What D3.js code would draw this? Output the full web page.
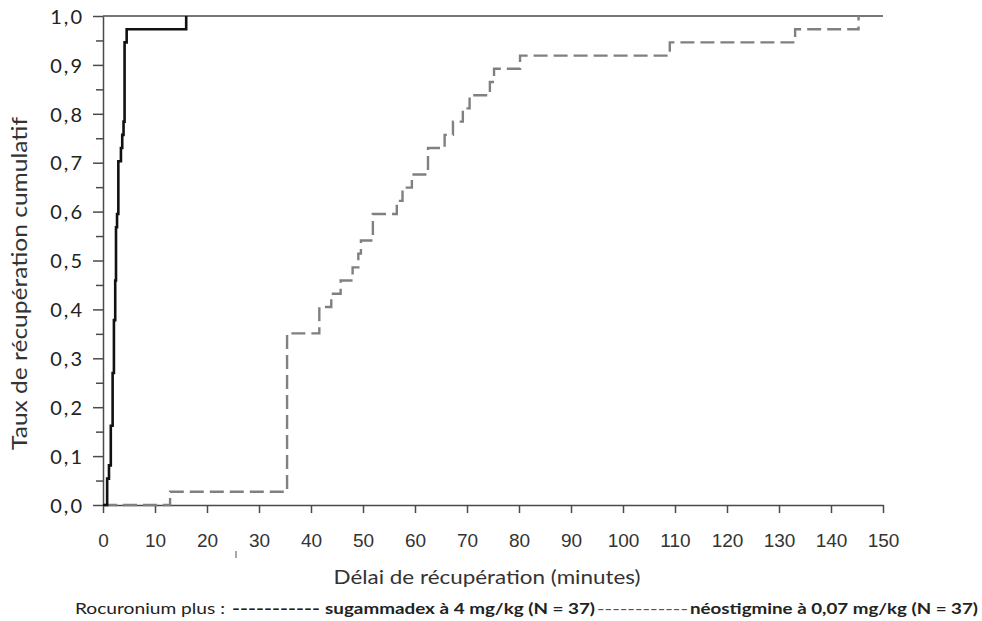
<!DOCTYPE html>
<html>
<head>
<meta charset="utf-8">
<script src="https://cdn.jsdelivr.net/npm/d3@7"></script>
<style>
body{margin:0;background:#fff;}
svg{display:block;}
</style>
</head>
<body>
<svg width="982" height="621"></svg>
<script>
// Cumulative recovery, step curves (N = 37 each arm)
var sugTimes = [0, 0.8, 1.15, 1.5, 1.85, 2.1, 2.35, 2.5, 2.7, 2.95, 3.45, 3.7, 3.95, 4.15, 4.55, 16.0];
var sugRates = [0, 0.054, 0.081, 0.162, 0.270, 0.378, 0.459, 0.568, 0.595, 0.703, 0.730, 0.757, 0.784, 0.946, 0.973, 1.0];

var neoTimes = [0, 12.9, 35.4, 41.6, 43.9, 45.7, 48.0, 49.1, 49.6, 51.9, 56.5, 57.6, 59.4, 62.5, 65.7, 67.3, 69.2, 70.5, 74.4, 75.2, 80.2, 109.0, 133.1, 145.3];
var neoRates = [0, 0.027, 0.351, 0.405, 0.432, 0.459, 0.486, 0.514, 0.541, 0.595, 0.622, 0.649, 0.676, 0.730, 0.757, 0.784, 0.811, 0.838, 0.865, 0.892, 0.919, 0.946, 0.973, 1.0];

var seriesNames = ["sugammadex à 4 mg/kg (N = 37)", "néostigmine à 0,07 mg/kg (N = 37)"];

var xTicks = [0, 10, 20, 30, 40, 50, 60, 70, 80, 90, 100, 110, 120, 130, 140, 150];
var yTicks = [0, 0.1, 0.2, 0.3, 0.4, 0.5, 0.6, 0.7, 0.8, 0.9, 1.0];
var yMinorTicks = [0.05, 0.15, 0.25, 0.35, 0.45, 0.55, 0.65, 0.75, 0.85, 0.95];

var svg = d3.select("svg");
var axisColor = "#4a4a4a";
var textColor = "#222";
var calibriLike = "Lato, 'Open Sans', sans-serif";

var x = d3.scaleLinear().domain([0, 150]).range([103, 883]);
var y = d3.scaleLinear().domain([0, 1]).range([505, 16]);

function toPoints(times, rates){
    return times.map(function(t, i){ return [t, rates[i]]; });
}

var stepLine = d3.line()
    .x(function(d){ return x(d[0]); })
    .y(function(d){ return y(d[1]); })
    .curve(d3.curveStepAfter);

// top frame line
svg.append("line")
    .attr("x1", x(0)).attr("x2", x(150))
    .attr("y1", y(1)).attr("y2", y(1))
    .attr("stroke", axisColor)
    .attr("stroke-width", 1.5);

// x axis
var xAxis = svg.append("g")
    .attr("transform", "translate(0," + y(0) + ")")
    .call(d3.axisBottom(x).tickValues(xTicks).tickSize(8).tickSizeOuter(0).tickFormat(d3.format("d")));
xAxis.select(".domain").attr("stroke", axisColor).attr("stroke-width", 1.5);
xAxis.selectAll(".tick line").attr("stroke", axisColor).attr("stroke-width", 1.5);
xAxis.selectAll(".tick text")
    .attr("dy", null)
    .attr("y", 42)
    .attr("fill", "#333")
    .style("font-family", "'Liberation Sans Narrow', 'Liberation Sans', sans-serif")
    .style("font-size", "19px");

// y axis, minor ticks first
var yMinor = svg.append("g")
    .attr("transform", "translate(" + x(0) + ",0)")
    .call(d3.axisLeft(y).tickValues(yMinorTicks).tickSize(7).tickSizeOuter(0).tickFormat(""));
yMinor.select(".domain").remove();
yMinor.selectAll(".tick line").attr("stroke", axisColor).attr("stroke-width", 1.5);

var yAxis = svg.append("g")
    .attr("transform", "translate(" + x(0) + ",0)")
    .call(d3.axisLeft(y).tickValues(yTicks).tickSize(10).tickSizeOuter(0)
        .tickFormat(function(d){ return d3.format(".1f")(d).replace(".", ","); }));
yAxis.select(".domain").attr("stroke", axisColor).attr("stroke-width", 1.5);
yAxis.selectAll(".tick line").attr("stroke", axisColor).attr("stroke-width", 1.5);
yAxis.selectAll(".tick text")
    .attr("x", -19)
    .attr("dy", "0.36em")
    .attr("fill", textColor)
    .style("font-family", calibriLike)
    .style("font-size", "20px")
    .style("letter-spacing", "2px");

// curves
svg.append("path")
    .datum(toPoints(neoTimes, neoRates))
    .attr("d", stepLine)
    .attr("fill", "none")
    .attr("stroke", "#808080")
    .attr("stroke-width", 2.4)
    .attr("stroke-dasharray", "14,6");

svg.append("path")
    .datum(toPoints(sugTimes, sugRates))
    .attr("d", stepLine)
    .attr("fill", "none")
    .attr("stroke", "#111")
    .attr("stroke-width", 2.6)
    .attr("stroke-linejoin", "miter");

// axis titles
svg.append("text")
    .attr("transform", "translate(27,283.5) rotate(-90)")
    .attr("text-anchor", "middle")
    .attr("textLength", 333)
    .attr("lengthAdjust", "spacingAndGlyphs")
    .attr("fill", "#333")
    .style("font-family", calibriLike)
    .style("font-size", "21px")
    .text("Taux de récupération cumulatif");

svg.append("text")
    .attr("x", 487)
    .attr("y", 584)
    .attr("text-anchor", "middle")
    .attr("textLength", 307)
    .attr("lengthAdjust", "spacingAndGlyphs")
    .attr("fill", "#333")
    .style("font-family", calibriLike)
    .style("font-size", "20px")
    .text("Délai de récupération (minutes)");

// stray mark under the axis
svg.append("line")
    .attr("x1", 236).attr("x2", 236)
    .attr("y1", 551).attr("y2", 558)
    .attr("stroke", "#555")
    .attr("stroke-width", 1);

// legend line (text only, as in the source)
var legend = [
    {text: "Rocuronium plus :", x: 75, w: 150, bold: false, color: textColor},
    {text: "-----------", x: 232, w: 88, bold: true, color: textColor},
    {text: seriesNames[0], x: 325, w: 270, bold: true, color: textColor},
    {text: "------------", x: 597, w: 91, bold: false, color: "#555"},
    {text: seriesNames[1], x: 690, w: 288, bold: true, color: textColor}
];
svg.selectAll(".legend")
    .data(legend)
    .enter().append("text")
    .attr("class", "legend")
    .attr("x", function(d){ return d.x; })
    .attr("y", 614)
    .attr("textLength", function(d){ return d.w; })
    .attr("lengthAdjust", "spacingAndGlyphs")
    .attr("fill", function(d){ return d.color; })
    .style("font-family", calibriLike)
    .style("font-size", "15px")
    .style("font-weight", function(d){ return d.bold ? "bold" : "normal"; })
    .text(function(d){ return d.text; });
</script>
</body>
</html>
